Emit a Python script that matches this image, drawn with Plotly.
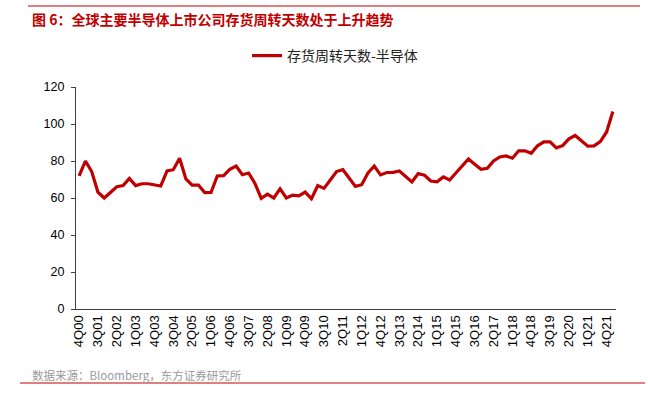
import plotly.graph_objects as go

quarters = [
    "4Q00",
    "1Q01", "2Q01", "3Q01", "4Q01",
    "1Q02", "2Q02", "3Q02", "4Q02",
    "1Q03", "2Q03", "3Q03", "4Q03",
    "1Q04", "2Q04", "3Q04", "4Q04",
    "1Q05", "2Q05", "3Q05", "4Q05",
    "1Q06", "2Q06", "3Q06", "4Q06",
    "1Q07", "2Q07", "3Q07", "4Q07",
    "1Q08", "2Q08", "3Q08", "4Q08",
    "1Q09", "2Q09", "3Q09", "4Q09",
    "1Q10", "2Q10", "3Q10", "4Q10",
    "1Q11", "2Q11", "3Q11", "4Q11",
    "1Q12", "2Q12", "3Q12", "4Q12",
    "1Q13", "2Q13", "3Q13", "4Q13",
    "1Q14", "2Q14", "3Q14", "4Q14",
    "1Q15", "2Q15", "3Q15", "4Q15",
    "1Q16", "2Q16", "3Q16", "4Q16",
    "1Q17", "2Q17", "3Q17", "4Q17",
    "1Q18", "2Q18", "3Q18", "4Q18",
    "1Q19", "2Q19", "3Q19", "4Q19",
    "1Q20", "2Q20", "3Q20", "4Q20",
    "1Q21", "2Q21", "3Q21", "4Q21",
    "1Q22",
]

inventory_days = [
    72.0, 80.0, 74.3, 63.1, 60.0, 62.8, 66.1, 66.7, 70.6, 66.7,
    67.7, 67.7, 67.2, 66.5, 74.6, 75.3, 81.5, 70.3, 67.0, 67.0,
    62.9, 63.0, 71.9, 72.1, 75.5, 77.3, 72.6, 73.5, 67.9, 59.8,
    62.1, 60.0, 64.9, 60.0, 61.6, 61.2, 63.2, 59.6, 66.7, 65.2,
    69.7, 74.3, 75.3, 70.6, 66.3, 67.2, 73.5, 77.3, 72.5, 73.8,
    73.9, 74.6, 71.5, 68.7, 73.2, 72.3, 69.2, 68.8, 71.4, 69.7,
    73.5, 77.3, 81.1, 78.3, 75.5, 76.1, 80.0, 82.2, 82.7, 81.5,
    85.5, 85.5, 84.2, 88.2, 90.3, 90.3, 87.1, 88.3, 92.0, 93.8,
    91.0, 88.0, 88.2, 90.5, 95.7, 106.8,
]

tick_labels = quarters[::3]
y_ticks = [0, 20, 40, 60, 80, 100, 120]

series_name = "存货周转天数-半导体"
title_text = "图 6：全球主要半导体上市公司存货周转天数处于上升趋势"
source_text = "数据来源：Bloomberg，东方证券研究所"

FONT = "Noto Sans CJK SC, Liberation Sans, Arial, sans-serif"
RED = "#C00000"

# plot area in pixels
L, R, T, B = 76, 616, 87, 309
W, H = 648, 406
PW, PH = R - L, B - T


def px_x(x):
    return (x - L) / PW


def px_y(y):
    return (B - y) / PH


fig = go.Figure()
fig.add_trace(go.Scatter(
    x=quarters,
    y=inventory_days,
    mode="lines",
    name=series_name,
    line=dict(color=RED, width=3.2),
))

fig.update_layout(
    width=W,
    height=H,
    margin=dict(l=L, r=W - R, t=T, b=H - B, pad=0, autoexpand=False),
    paper_bgcolor="white",
    plot_bgcolor="white",
    font=dict(family=FONT, size=12, color="#000000"),
    showlegend=True,
    legend=dict(
        orientation="h",
        x=px_x(335),
        xanchor="center",
        y=px_y(56),
        yanchor="middle",
        font=dict(family=FONT, size=14, color="#222222"),
        bgcolor="rgba(0,0,0,0)",
        itemwidth=30,
    ),
    xaxis=dict(
        type="category",
        range=[-0.5, len(quarters) - 0.5],
        tickmode="array",
        tickvals=tick_labels,
        ticktext=tick_labels,
        tickangle=-90,
        tickfont=dict(family="Liberation Sans, Arial, sans-serif", size=13, color="#000000"),
        showline=True,
        linecolor="#404040",
        linewidth=1.3,
        showgrid=False,
        zeroline=False,
        ticks="",
        automargin=False,
    ),
    yaxis=dict(
        range=[0, 120],
        tickmode="array",
        tickvals=y_ticks,
        tickfont=dict(family="Liberation Sans, Arial, sans-serif", size=12.5, color="#000000"),
        showline=True,
        linecolor="#404040",
        linewidth=1.3,
        showgrid=False,
        zeroline=False,
        ticks="outside",
        ticklen=4,
        tickcolor="#404040",
        ticklabelstandoff=4,
        automargin=False,
    ),
    shapes=[
        dict(type="line", xref="paper", yref="paper",
             x0=px_x(28), x1=px_x(640), y0=px_y(6), y1=px_y(6),
             line=dict(color=RED, width=1)),
        dict(type="line", xref="paper", yref="paper",
             x0=px_x(20), x1=px_x(645), y0=px_y(383), y1=px_y(383),
             line=dict(color=RED, width=1)),
    ],
    annotations=[
        dict(text="<b>" + title_text + "</b>", xref="paper", yref="paper",
             x=px_x(30), y=px_y(19), xanchor="left", yanchor="middle",
             showarrow=False, font=dict(family=FONT, size=14, color=RED)),
        dict(text=source_text, xref="paper", yref="paper",
             x=px_x(30), y=px_y(375), xanchor="left", yanchor="middle",
             showarrow=False, font=dict(family=FONT, size=11.5, color="#9a9a9a")),
    ],
)

fig.write_html(
    "out.html",
    config={"displayModeBar": False},
    post_script="document.body.style.margin='0';document.body.style.padding='0';",
)
